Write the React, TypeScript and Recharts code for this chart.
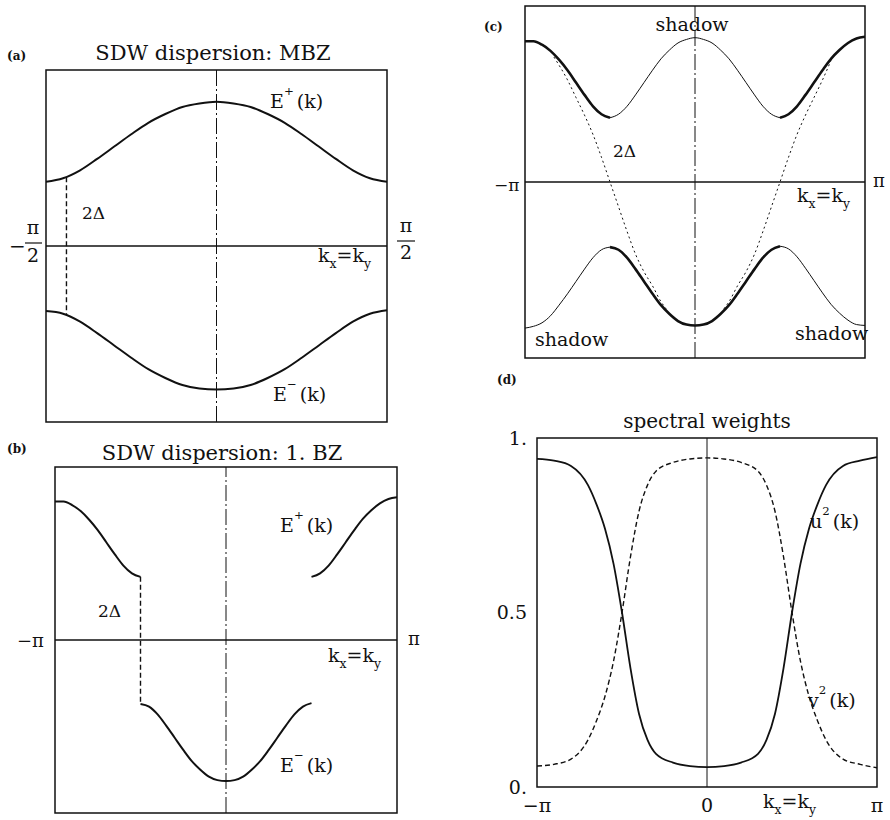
import React from "react";
import {
  LineChart,
  Line,
  XAxis,
  YAxis,
  ReferenceLine,
  ReferenceArea,
} from "recharts";

const INK = "#111";
const SERIF = "'DejaVu Serif', serif";

// wave vector along the diagonal kx = ky, in units of pi
const kZone = [
  -1, -0.95, -0.9, -0.85, -0.8, -0.75, -0.7, -0.65, -0.6, -0.55, -0.5, -0.45,
  -0.4, -0.35, -0.3, -0.25, -0.2, -0.15, -0.1, -0.05, 0, 0.05, 0.1, 0.15, 0.2,
  0.25, 0.3, 0.35, 0.4, 0.45, 0.5, 0.55, 0.6, 0.65, 0.7, 0.75, 0.8, 0.85, 0.9,
  0.95, 1,
];

// upper and lower SDW bands E+(k), E-(k)
const eUpper = [
  0.8, 0.8, 0.78, 0.745, 0.695, 0.635, 0.565, 0.495, 0.43, 0.385, 0.365, 0.385,
  0.43, 0.495, 0.565, 0.635, 0.7, 0.75, 0.79, 0.81, 0.82, 0.81, 0.79, 0.75, 0.7,
  0.635, 0.565, 0.495, 0.43, 0.385, 0.365, 0.385, 0.43, 0.495, 0.565, 0.635,
  0.7, 0.75, 0.79, 0.815, 0.825,
];
const eLower = [
  -0.83, -0.82, -0.8, -0.76, -0.7, -0.635, -0.565, -0.495, -0.43, -0.385, -0.37,
  -0.385, -0.43, -0.495, -0.565, -0.635, -0.7, -0.75, -0.79, -0.81, -0.815,
  -0.81, -0.79, -0.75, -0.7, -0.635, -0.565, -0.495, -0.43, -0.385, -0.365,
  -0.38, -0.425, -0.49, -0.56, -0.63, -0.695, -0.745, -0.785, -0.81, -0.815,
];

// 2Δ markers: position and band edges
const gapMbz = { k: -0.44, top: 0.39, bottom: -0.39 };
const gapBz = { k: -0.5, top: 0.365, bottom: -0.365 };

// bare (unfolded) band, dotted in panel (c)
const kBareLeft = [-0.83, -0.75, -0.7, -0.65, -0.6, -0.55, -0.5, -0.45, -0.4, -0.35, -0.3, -0.25, -0.2, -0.17];
const eBareLeft = [0.71, 0.58, 0.48, 0.38, 0.27, 0.14, 0.0, -0.14, -0.28, -0.41, -0.51, -0.59, -0.68, -0.72];
const kBareRight = [0.17, 0.2, 0.25, 0.3, 0.35, 0.4, 0.45, 0.5, 0.55, 0.6, 0.65, 0.7, 0.75, 0.8];
const eBareRight = [-0.72, -0.68, -0.59, -0.51, -0.41, -0.28, -0.14, 0.0, 0.14, 0.27, 0.38, 0.48, 0.58, 0.69];

// spectral weights
const kWeights = [
  -1, -0.9, -0.8, -0.7, -0.65, -0.6, -0.55, -0.5, -0.45, -0.4, -0.35, -0.3,
  -0.2, -0.1, 0, 0.1, 0.2, 0.3, 0.35, 0.4, 0.45, 0.5, 0.55, 0.6, 0.65, 0.7, 0.8,
  0.9, 1,
];
const u2 = [
  0.94, 0.935, 0.92, 0.865, 0.81, 0.74, 0.64, 0.5, 0.34, 0.21, 0.135, 0.095,
  0.07, 0.06, 0.057, 0.06, 0.07, 0.095, 0.135, 0.21, 0.34, 0.5, 0.64, 0.74,
  0.81, 0.865, 0.92, 0.935, 0.945,
];
const v2 = [
  0.06, 0.065, 0.08, 0.135, 0.19, 0.26, 0.36, 0.5, 0.66, 0.79, 0.865, 0.905,
  0.93, 0.94, 0.943, 0.94, 0.93, 0.905, 0.865, 0.79, 0.66, 0.5, 0.36, 0.26,
  0.19, 0.135, 0.08, 0.065, 0.055,
];

const weightTicksX = [-1, 0, 1];
const weightTickLabelsX = ["−π", "0", "π"];
const weightTicksY = [0, 0.5, 1];
const weightTickLabelsY = ["0.", "0.5", "1."];

type Pt = { k: number; e: number };
const zip = (ks: number[], es: number[]): Pt[] =>
  ks.map((k, i) => ({ k, e: es[i] }));

const upper = zip(kZone, eUpper);
const lower = zip(kZone, eLower);
const inner = (p: Pt) => Math.abs(p.k) <= 0.5;
const leftOuter = (p: Pt) => p.k <= -0.5;
const rightOuter = (p: Pt) => p.k >= 0.5;

const gapLine = (g: { k: number; top: number; bottom: number }) => [
  { k: g.k, e: g.top },
  { k: g.k, e: g.bottom },
];

const M = 4;

const curve = (data: Pt[], key: string, width = 2, dash?: string) => (
  <Line
    key={key}
    data={data}
    dataKey="e"
    type="monotone"
    dot={false}
    activeDot={false}
    stroke={INK}
    strokeWidth={width}
    strokeDasharray={dash}
    isAnimationActive={false}
  />
);

function Panel({
  left,
  top,
  width,
  height,
  children,
}: {
  left: number;
  top: number;
  width: number;
  height: number;
  children: React.ReactNode;
}) {
  return (
    <div style={{ position: "absolute", left: left - M, top: top - M }}>
      <LineChart
        width={width + 2 * M}
        height={height + 2 * M}
        margin={{ top: M, right: M, bottom: M, left: M }}
      >
        <XAxis type="number" dataKey="k" domain={[-1, 1]} hide allowDataOverflow />
        <YAxis type="number" domain={[-1, 1]} hide allowDataOverflow />
        <ReferenceArea x1={-1} x2={1} y1={-1} y2={1} fill="none" stroke={INK} strokeWidth={1.5} />
        <ReferenceLine y={0} stroke={INK} strokeWidth={1.3} />
        <ReferenceLine x={0} stroke={INK} strokeWidth={1} strokeDasharray="16 3 2 3" />
        {children}
      </LineChart>
    </div>
  );
}

// label with a raised part, e.g. E^+(k)
function Sup({ x, y, base, sup, rest, size = 19 }: { x: number; y: number; base: string; sup: string; rest: string; size?: number }) {
  return (
    <text x={x} y={y} fontSize={size}>
      {base}
      <tspan dy={-size * 0.7} fontSize={size * 0.62}>{sup}</tspan>
      <tspan dy={size * 0.7} dx={3}>{rest}</tspan>
    </text>
  );
}

function KDiag({ x, y, size = 19 }: { x: number; y: number; size?: number }) {
  return (
    <text x={x} y={y} fontSize={size}>
      k<tspan dy={6} fontSize={size * 0.65}>x</tspan>
      <tspan dy={-6}>=k</tspan>
      <tspan dy={6} fontSize={size * 0.65}>y</tspan>
    </text>
  );
}

function Labels() {
  return (
    <svg
      width={890}
      height={820}
      style={{ position: "absolute", left: 0, top: 0, pointerEvents: "none" }}
      fontFamily={SERIF}
      fill={INK}
    >
      {/* (a) */}
      <text x={7} y={60} fontSize={12} fontWeight="bold">(a)</text>
      <text x={213} y={60} fontSize={21} textAnchor="middle">SDW dispersion: MBZ</text>
      <Sup x={270} y={108} base="E" sup="+" rest="(k)" />
      <text x={82} y={219} fontSize={17}>2Δ</text>
      <text x={9} y={253} fontSize={20}>−</text>
      <text x={33} y={234} fontSize={19} textAnchor="middle">π</text>
      <line x1={25} x2={42} y1={243} y2={243} stroke={INK} strokeWidth={1.2} />
      <text x={33} y={262} fontSize={19} textAnchor="middle">2</text>
      <text x={406} y={232} fontSize={19} textAnchor="middle">π</text>
      <line x1={397} x2={415} y1={241} y2={241} stroke={INK} strokeWidth={1.2} />
      <text x={406} y={259} fontSize={19} textAnchor="middle">2</text>
      <KDiag x={318} y={262} />
      <Sup x={273} y={401} base="E" sup="−" rest="(k)" />

      {/* (b) */}
      <text x={7} y={453} fontSize={12} fontWeight="bold">(b)</text>
      <text x={222} y={460} fontSize={21} textAnchor="middle">SDW dispersion: 1. BZ</text>
      <Sup x={280} y={532} base="E" sup="+" rest="(k)" />
      <text x={98} y={617} fontSize={17}>2Δ</text>
      <text x={17} y={647} fontSize={18}>−π</text>
      <text x={408} y={645} fontSize={18}>π</text>
      <KDiag x={328} y={662} />
      <Sup x={280} y={772} base="E" sup="−" rest="(k)" />

      {/* (c) */}
      <text x={484} y={31} fontSize={12} fontWeight="bold">(c)</text>
      <text x={692} y={31} fontSize={19} textAnchor="middle">shadow</text>
      <text x={613} y={157} fontSize={17}>2Δ</text>
      <text x={494} y={191} fontSize={17}>−π</text>
      <text x={873} y={187} fontSize={18}>π</text>
      <KDiag x={797} y={202} />
      <text x={535} y={346} fontSize={19}>shadow</text>
      <text x={795} y={340} fontSize={19}>shadow</text>

      {/* (d) */}
      <text x={497} y={384} fontSize={12} fontWeight="bold">(d)</text>
      <text x={707} y={428} fontSize={20} textAnchor="middle">spectral weights</text>
      <Sup x={810} y={528} base="u" sup="2" rest="(k)" />
      <Sup x={808} y={707} base="v" sup="2" rest="(k)" />
      <KDiag x={763} y={808} />
    </svg>
  );
}

export default function App() {
  const tickStyle = { fill: INK, fontSize: 19, fontFamily: SERIF };
  const dTop = 12;
  const dRight = 12;
  return (
    <div style={{ position: "absolute", left: 0, top: 0, width: 890, height: 820, background: "#fff" }}>
      {/* (a) magnetic Brillouin zone, k from -π/2 to π/2 */}
      <div style={{ position: "absolute", left: 46 - M, top: 70 - M }}>
        <LineChart width={341 + 2 * M} height={352 + 2 * M} margin={{ top: M, right: M, bottom: M, left: M }}>
          <XAxis type="number" dataKey="k" domain={[-0.5, 0.5]} hide allowDataOverflow />
          <YAxis type="number" domain={[-1, 1]} hide allowDataOverflow />
          <ReferenceArea x1={-0.5} x2={0.5} y1={-1} y2={1} fill="none" stroke={INK} strokeWidth={1.5} />
          <ReferenceLine y={0} stroke={INK} strokeWidth={1.3} />
          <ReferenceLine x={0} stroke={INK} strokeWidth={1} strokeDasharray="16 3 2 3" />
          {curve(upper.filter(inner), "ep")}
          {curve(lower.filter(inner), "em")}
          <Line data={gapLine(gapMbz)} dataKey="e" type="linear" dot={false} activeDot={false} stroke={INK} strokeWidth={1.4} strokeDasharray="5 3" isAnimationActive={false} />
        </LineChart>
      </div>

      {/* (b) first Brillouin zone */}
      <Panel left={55} top={467} width={342} height={346}>
        {curve(upper.filter(leftOuter), "epl")}
        {curve(upper.filter(rightOuter), "epr")}
        {curve(lower.filter(inner), "em")}
        <Line data={gapLine(gapBz)} dataKey="e" type="linear" dot={false} activeDot={false} stroke={INK} strokeWidth={1.4} strokeDasharray="5 3" isAnimationActive={false} />
      </Panel>

      {/* (c) bands with shadow parts */}
      <Panel left={525} top={6} width={340} height={352}>
        {curve(zip(kBareLeft, eBareLeft), "bl", 1, "2 3")}
        {curve(zip(kBareRight, eBareRight), "br", 1, "2 3")}
        {curve(upper.filter(inner), "ups", 1)}
        {curve(upper.filter(leftOuter), "upl", 2.6)}
        {curve(upper.filter(rightOuter), "upr", 2.6)}
        {curve(lower.filter(leftOuter), "lol", 1)}
        {curve(lower.filter(rightOuter), "lor", 1)}
        {curve(lower.filter(inner), "loi", 2.6)}
      </Panel>

      {/* (d) spectral weights */}
      <div style={{ position: "absolute", left: 537 - 60, top: 438 - dTop }}>
        <LineChart width={60 + 340 + dRight} height={349 + dTop + 30} margin={{ top: dTop, right: dRight, bottom: 0, left: 0 }}>
          <XAxis
            type="number"
            dataKey="k"
            domain={[-1, 1]}
            ticks={weightTicksX}
            tickFormatter={(v: number) => weightTickLabelsX[weightTicksX.indexOf(v)]}
            axisLine={false}
            tickLine={false}
            tickSize={0}
            tickMargin={12}
            height={30}
            tick={tickStyle}
            interval={0}
          />
          <YAxis
            type="number"
            domain={[0, 1]}
            ticks={weightTicksY}
            tickFormatter={(v: number) => weightTickLabelsY[weightTicksY.indexOf(v)]}
            axisLine={false}
            tickLine={false}
            tickSize={0}
            tickMargin={10}
            width={60}
            tick={tickStyle}
            interval={0}
          />
          <ReferenceArea x1={-1} x2={1} y1={0} y2={1} fill="none" stroke={INK} strokeWidth={1.5} />
          <ReferenceLine x={0} stroke={INK} strokeWidth={1} />
          {curve(zip(kWeights, u2), "u2", 1.8)}
          {curve(zip(kWeights, v2), "v2", 1.4, "5 3")}
        </LineChart>
      </div>

      <Labels />
    </div>
  );
}
